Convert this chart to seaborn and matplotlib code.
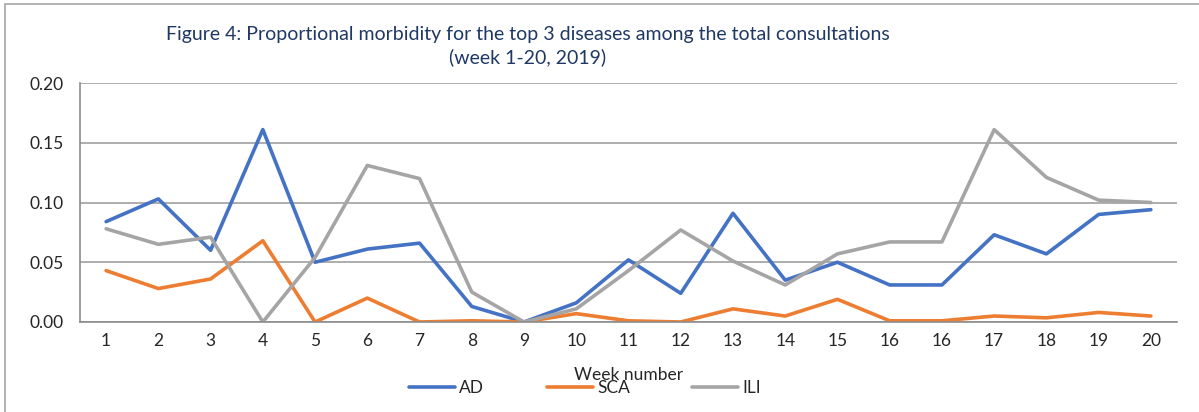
import matplotlib
matplotlib.use("Agg")
import matplotlib.pyplot as plt
from matplotlib.patches import Rectangle
from matplotlib.ticker import FixedLocator, NullFormatter
import seaborn as sns
import pandas as pd

# data (week 16 appears twice on the axis)
weeks = ["1", "2", "3", "4", "5", "6", "7", "8", "9", "10", "11", "12",
         "13", "14", "15", "16", "16", "17", "18", "19", "20"]
ad = [0.084, 0.103, 0.060, 0.161, 0.050, 0.061, 0.066, 0.013, 0.000, 0.016, 0.052,
      0.024, 0.091, 0.035, 0.050, 0.031, 0.031, 0.073, 0.057, 0.090, 0.094]
sca = [0.043, 0.028, 0.036, 0.068, 0.000, 0.020, 0.000, 0.001, 0.000, 0.007, 0.001,
       0.000, 0.011, 0.005, 0.019, 0.001, 0.001, 0.005, 0.0035, 0.008, 0.005]
ili = [0.078, 0.065, 0.071, 0.000, 0.054, 0.131, 0.120, 0.025, 0.000, 0.011, 0.043,
       0.077, 0.051, 0.031, 0.057, 0.067, 0.067, 0.161, 0.121, 0.102, 0.100]
series_names = ["AD", "SCA", "ILI"]
colors = {"AD": "#4472C4", "SCA": "#ED7D31", "ILI": "#A5A5A5"}

pos = list(range(len(weeks)))
df = pd.DataFrame({
    "pos": pos * 3,
    "value": ad + sca + ili,
    "series": ["AD"] * len(ad) + ["SCA"] * len(sca) + ["ILI"] * len(ili),
})

sns.set_style("white")
plt.rcParams["font.family"] = ["Lato", "DejaVu Sans"]

fig = plt.figure(figsize=(11.99, 4.12), dpi=100)
ax = fig.add_axes([80 / 1199, 1 - 322 / 412, 1097 / 1199, 239 / 412])

sns.lineplot(data=df, x="pos", y="value", hue="series", hue_order=series_names,
             palette=colors, linewidth=2.6, ax=ax, legend=False)

ax.set_xlim(-0.5, len(weeks) - 0.5)
ax.set_ylim(0, 0.2)
ax.set_yticks([0, 0.05, 0.10, 0.15, 0.20])
ax.set_yticklabels(["0.00", "0.05", "0.10", "0.15", "0.20"])
ax.set_xticks(pos)
ax.set_xticklabels(weeks)
ax.xaxis.set_minor_locator(FixedLocator([p - 0.5 for p in range(len(weeks) + 1)]))
ax.xaxis.set_minor_formatter(NullFormatter())
ax.tick_params(axis="x", which="major", length=0, pad=8, labelsize=12.5)
ax.tick_params(axis="x", which="minor", length=6, color="#8C8C8C", width=1)
ax.tick_params(axis="y", length=6, color="#8C8C8C", width=1, labelsize=12.5, pad=6)

ax.grid(axis="y", color="#A0A0A0", linewidth=1.2)
ax.set_axisbelow(True)
for s in ["top", "right"]:
    ax.spines[s].set_visible(False)
for s in ["left", "bottom"]:
    ax.spines[s].set_color("#8C8C8C")
    ax.spines[s].set_linewidth(1.2)

ax.set_xlabel("Week number", fontsize=12.5, labelpad=13)
ax.set_ylabel("")

handles = [plt.Line2D([], [], color=colors[n], linewidth=2.6) for n in series_names]
fig.legend(handles, series_names, loc="center", bbox_to_anchor=(585 / 1199, 1 - 388 / 412),
           ncol=3, frameon=False, fontsize=12.5, handlelength=2.65, handletextpad=0.25,
           columnspacing=3.6, borderaxespad=0, borderpad=0)

fig.text(528 / 1199, 1 - 46 / 412,
         "Figure 4: Proportional morbidity for the top 3 diseases among the total consultations\n"
         "(week 1-20, 2019)", ha="center", va="center", fontsize=14,
         color="#1F3864", linespacing=1.35)

fig.patches.append(Rectangle((5 / 1199, -0.1), 1.2, 1 - 4 / 412 + 0.1, transform=fig.transFigure,
                             fill=False, edgecolor="#A6A6A6", linewidth=1.2))

fig.savefig("out.png", dpi=100)
